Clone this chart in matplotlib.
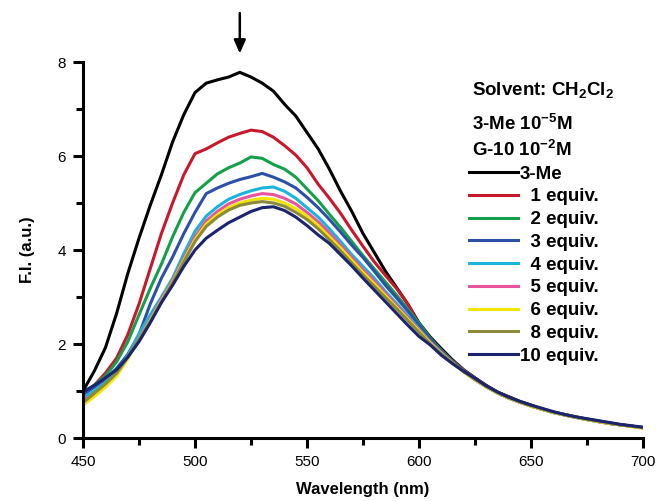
import matplotlib
matplotlib.use("Agg")
import matplotlib.pyplot as plt
from matplotlib.ticker import MultipleLocator

plt.rcParams['font.family'] = ['Liberation Sans', 'DejaVu Sans']
plt.rcParams['mathtext.fontset'] = 'custom'
plt.rcParams['mathtext.bf'] = 'Liberation Sans:bold'
plt.rcParams['mathtext.rm'] = 'Liberation Sans'

wavelength = list(range(450, 701, 5))

me3 = [1.00, 1.42, 1.92, 2.65, 3.50, 4.25, 4.95, 5.60, 6.30, 6.88, 7.35,
       7.55, 7.62, 7.68, 7.78, 7.68, 7.55, 7.38, 7.10, 6.85, 6.50,
       6.15, 5.72, 5.25, 4.82, 4.35, 3.95, 3.55, 3.20, 2.85, 2.45,
       2.15, 1.90, 1.66, 1.45, 1.28, 1.12, 0.98, 0.88, 0.78, 0.70,
       0.62, 0.55, 0.50, 0.45, 0.40, 0.36, 0.32, 0.28, 0.25, 0.22]
eq1 = [0.95, 1.12, 1.38, 1.70, 2.20, 2.85, 3.60, 4.35, 5.00, 5.60, 6.05,
       6.15, 6.28, 6.40, 6.48, 6.55, 6.52, 6.40, 6.22, 6.02, 5.75,
       5.40, 5.10, 4.78, 4.42, 4.08, 3.75, 3.46, 3.18, 2.85, 2.42,
       2.12, 1.86, 1.64, 1.44, 1.27, 1.11, 0.97, 0.87, 0.77, 0.69,
       0.61, 0.55, 0.49, 0.44, 0.40, 0.35, 0.31, 0.28, 0.25, 0.22]
eq2 = [0.90, 1.12, 1.32, 1.62, 2.05, 2.62, 3.18, 3.70, 4.28, 4.80, 5.22,
       5.42, 5.62, 5.75, 5.85, 5.98, 5.95, 5.82, 5.72, 5.55, 5.30,
       5.05, 4.76, 4.48, 4.18, 3.88, 3.60, 3.32, 3.04, 2.74, 2.44,
       2.12, 1.86, 1.63, 1.43, 1.26, 1.10, 0.97, 0.86, 0.77, 0.69,
       0.62, 0.55, 0.50, 0.44, 0.40, 0.36, 0.31, 0.28, 0.25, 0.22]
eq3 = [0.92, 1.08, 1.25, 1.48, 1.78, 2.20, 2.85, 3.40, 3.85, 4.35, 4.80,
       5.20, 5.32, 5.42, 5.50, 5.56, 5.63, 5.55, 5.45, 5.32, 5.12,
       4.90, 4.65, 4.38, 4.10, 3.84, 3.55, 3.25, 2.98, 2.70, 2.40,
       2.10, 1.85, 1.62, 1.42, 1.25, 1.09, 0.96, 0.85, 0.76, 0.68,
       0.61, 0.54, 0.49, 0.44, 0.39, 0.35, 0.31, 0.28, 0.25, 0.22]
eq4 = [0.85, 1.00, 1.18, 1.42, 1.75, 2.22, 2.62, 3.00, 3.40, 3.92, 4.40,
       4.72, 4.92, 5.08, 5.18, 5.26, 5.32, 5.34, 5.25, 5.10, 4.90,
       4.70, 4.45, 4.18, 3.90, 3.65, 3.40, 3.12, 2.86, 2.60, 2.32,
       2.05, 1.82, 1.60, 1.41, 1.24, 1.09, 0.96, 0.85, 0.76, 0.68,
       0.61, 0.54, 0.49, 0.44, 0.39, 0.35, 0.31, 0.28, 0.25, 0.22]
eq5 = [0.78, 0.95, 1.12, 1.36, 1.70, 2.12, 2.52, 2.95, 3.35, 3.82, 4.28,
       4.62, 4.82, 4.98, 5.08, 5.15, 5.20, 5.18, 5.10, 4.98, 4.80,
       4.60, 4.36, 4.10, 3.84, 3.58, 3.34, 3.08, 2.82, 2.56, 2.30,
       2.04, 1.81, 1.60, 1.41, 1.24, 1.09, 0.96, 0.85, 0.76, 0.68,
       0.61, 0.55, 0.49, 0.44, 0.40, 0.35, 0.31, 0.28, 0.25, 0.21]
eq6 = [0.70, 0.88, 1.08, 1.32, 1.68, 2.10, 2.50, 2.92, 3.32, 3.78, 4.22,
       4.55, 4.75, 4.90, 5.00, 5.06, 5.10, 5.08, 5.00, 4.88, 4.72,
       4.52, 4.28, 4.04, 3.78, 3.52, 3.28, 3.03, 2.78, 2.53, 2.28,
       2.02, 1.80, 1.59, 1.41, 1.24, 1.09, 0.96, 0.85, 0.76, 0.68,
       0.61, 0.54, 0.49, 0.44, 0.39, 0.35, 0.31, 0.28, 0.24, 0.21]
eq8 = [0.75, 0.95, 1.15, 1.38, 1.72, 2.10, 2.48, 2.90, 3.30, 3.75, 4.18,
       4.50, 4.70, 4.85, 4.95, 5.00, 5.03, 5.00, 4.93, 4.80, 4.65,
       4.45, 4.22, 3.98, 3.72, 3.47, 3.23, 2.99, 2.75, 2.50, 2.25,
       2.00, 1.79, 1.59, 1.41, 1.25, 1.10, 0.97, 0.86, 0.77, 0.69,
       0.62, 0.55, 0.50, 0.45, 0.40, 0.36, 0.32, 0.28, 0.25, 0.22]
eq10 = [0.98, 1.12, 1.28, 1.45, 1.72, 2.05, 2.45, 2.88, 3.25, 3.65, 4.00,
        4.25, 4.42, 4.58, 4.70, 4.82, 4.90, 4.92, 4.84, 4.70, 4.52,
        4.32, 4.14, 3.90, 3.66, 3.40, 3.15, 2.90, 2.65, 2.40, 2.16,
        1.98, 1.76, 1.58, 1.42, 1.27, 1.11, 0.98, 0.87, 0.78, 0.70,
        0.63, 0.56, 0.50, 0.45, 0.41, 0.37, 0.33, 0.29, 0.26, 0.23]

series = [me3, eq1, eq2, eq3, eq4, eq5, eq6, eq8, eq10]
labels = ["3-Me", "  1 equiv.", "  2 equiv.", "  3 equiv.", "  4 equiv.",
          "  5 equiv.", "  6 equiv.", "  8 equiv.", "10 equiv."]
colors = ["#000000", "#c8182c", "#14a04a", "#2c50a8", "#1ab4dc",
          "#e8559c", "#f2e600", "#8a8a3a", "#1c2470"]

fig = plt.figure(figsize=(6.57, 5.01), dpi=100)
ax = fig.add_axes([83/657, 1 - 438/501, (643 - 83)/657, (438 - 62)/501])

handles = []
for y, lab, c in zip(series, labels, colors):
    h, = ax.plot(wavelength, y, color=c, lw=2.2, label=lab)
    handles.append(h)

ax.set_xlim(450, 700)
ax.set_ylim(0, 8)
ax.xaxis.set_major_locator(MultipleLocator(50))
ax.xaxis.set_minor_locator(MultipleLocator(25))
ax.yaxis.set_major_locator(MultipleLocator(2))
ax.yaxis.set_minor_locator(MultipleLocator(1))
for s in ['top', 'right']:
    ax.spines[s].set_visible(False)
for s in ['left', 'bottom']:
    ax.spines[s].set_linewidth(2.2)
ax.tick_params(which='major', direction='out', length=7.5, width=2.2, labelsize=11, pad=5)
ax.tick_params(which='minor', direction='out', length=5, width=2.2)

ax.set_xlabel("Wavelength (nm)", fontsize=12, fontweight='bold', labelpad=9)
ax.set_ylabel("F.I. (a.u.)", fontsize=12, fontweight='bold', labelpad=16)

ax.annotate("", xy=(520, 8.12), xytext=(520, 9.1), xycoords='data',
            arrowprops=dict(arrowstyle='-|>,head_length=0.8,head_width=0.35',
                            color='black', lw=1.8), annotation_clip=False)

tfs = 13.5
fig.text(472/657, 1 - 96/501, r"Solvent: CH$_\mathbf{2}$Cl$_\mathbf{2}$", fontsize=tfs,
         fontweight='bold', va='baseline', ha='left')
fig.text(472/657, 1 - 129.5/501, r"3-Me 10$^\mathbf{-5}$M", fontsize=tfs,
         fontweight='bold', va='baseline', ha='left')
fig.text(472/657, 1 - 156/501, r"G-10 10$^\mathbf{-2}$M", fontsize=tfs,
         fontweight='bold', va='baseline', ha='left')

leg = fig.legend(handles=handles, loc='upper left',
                 bbox_to_anchor=(469/657, 1 - 165.5/501), frameon=False,
                 prop={'weight': 'bold', 'size': tfs}, handlelength=2.6,
                 handletextpad=0.1, labelspacing=0.30, borderpad=0,
                 borderaxespad=0)

fig.savefig("out.png", dpi=100)
